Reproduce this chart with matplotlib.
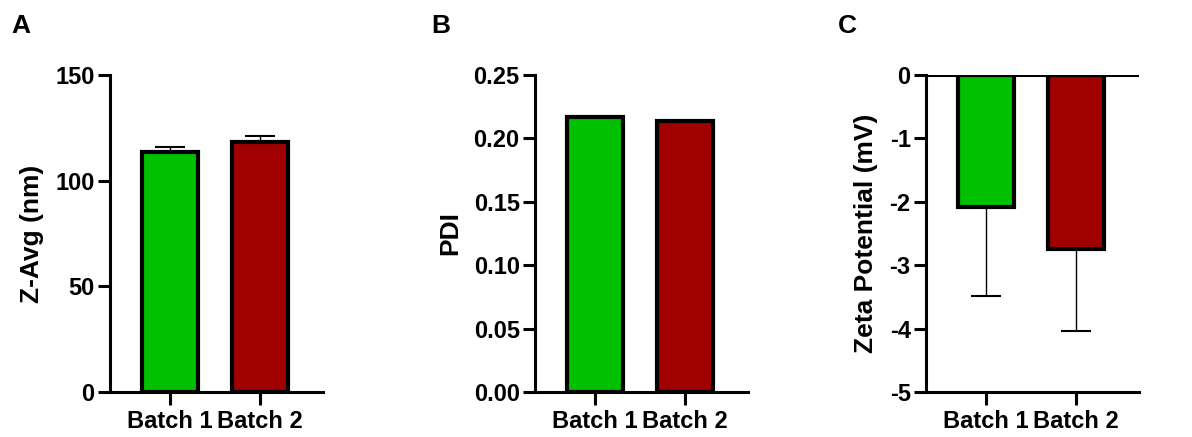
import matplotlib
matplotlib.use("Agg")
import matplotlib.pyplot as plt
import numpy as np

plt.rcParams['font.family'] = ['Liberation Sans', 'DejaVu Sans']
plt.rcParams['font.weight'] = 'bold'

batches = ["Batch 1", "Batch 2"]
bar_colors = ["#00c000", "#a00000"]

zavg = [113.5, 118.5]
zavg_sd = [2.2, 2.6]

pdi = [0.2165, 0.2140]

zeta = [-2.08, -2.75]
zeta_sd = [1.41, 1.28]

fig = plt.figure(figsize=(11.92, 4.37), dpi=100)
W, H = 1192, 437

def make_ax(left_px):
    ax = fig.add_axes([left_px / W, 1 - 392 / H, 213 / W, 317 / H])
    for s in ['top', 'right']:
        ax.spines[s].set_visible(False)
    for s in ['left', 'bottom']:
        ax.spines[s].set_linewidth(2.2)
    ax.tick_params(axis='both', width=2.2, length=9, labelsize=17)
    ax.tick_params(axis='x', pad=4)
    ax.tick_params(axis='y', pad=2)
    ax.set_xlim(-0.667, 1.7)
    x = np.arange(len(batches))
    ax.set_xticks(x)
    ax.set_xticklabels(batches, fontweight='bold')
    return ax, x

# A
ax, x = make_ax(110)
ax.bar(x, zavg, width=0.62, color=bar_colors, edgecolor='black', linewidth=3, zorder=3)
ax.errorbar(x, zavg, yerr=[[0, 0], zavg_sd], fmt='none', ecolor='black',
            elinewidth=1, capsize=11, capthick=1.5, zorder=2)
ax.set_ylim(0, 150)
ax.set_yticks([0, 50, 100, 150])
ax.set_yticklabels(['0', '50', '100', '150'], fontweight='bold')
ax.set_ylabel("Z-Avg (nm)", fontsize=19, fontweight='bold', labelpad=8)

# B
ax, x = make_ax(535)
ax.bar(x, pdi, width=0.62, color=bar_colors, edgecolor='black', linewidth=3, zorder=3)
ax.set_ylim(0, 0.25)
ax.set_yticks([0, 0.05, 0.10, 0.15, 0.20, 0.25])
ax.set_yticklabels(['0.00', '0.05', '0.10', '0.15', '0.20', '0.25'], fontweight='bold')
ax.set_ylabel("PDI", fontsize=19, fontweight='bold', labelpad=8)

# C
ax, x = make_ax(926)
ax.bar(x, zeta, width=0.62, color=bar_colors, edgecolor='black', linewidth=3, zorder=3)
ax.errorbar(x, zeta, yerr=[zeta_sd, [0, 0]], fmt='none', ecolor='black',
            elinewidth=1, capsize=11, capthick=1.5, zorder=2)
ax.axhline(0, color='black', linewidth=2.2, zorder=4)
ax.set_ylim(-5, 0)
ax.set_yticks([-5, -4, -3, -2, -1, 0])
ax.set_yticklabels(['-5', '-4', '-3', '-2', '-1', '0'], fontweight='bold')
ax.set_ylabel("Zeta Potential (mV)", fontsize=19, fontweight='bold', labelpad=8)

for lbl, xp in zip(["A", "B", "C"], [11, 431, 838]):
    fig.text(xp / W, 1 - 33 / H, lbl, fontsize=19, fontweight='bold')

fig.savefig("out.png", dpi=100)
